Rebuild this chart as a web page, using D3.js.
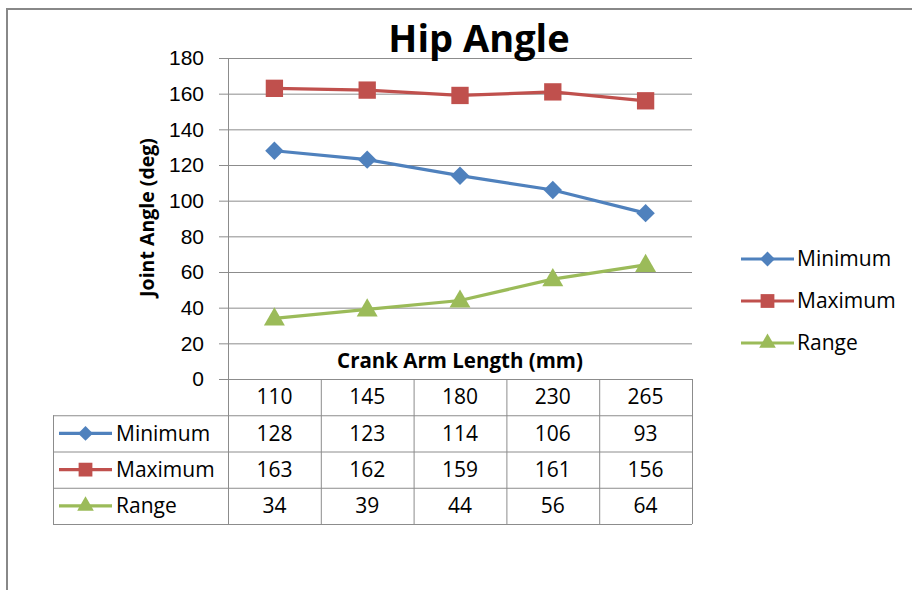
<!DOCTYPE html>
<html>
<head>
<meta charset="utf-8">
<script src="https://cdn.jsdelivr.net/npm/d3@7"></script>
<style>
  html, body { margin: 0; padding: 0; background: #fff; }
  svg { display: block; font-family: "Open Sans", "Noto Sans", sans-serif; }
</style>
</head>
<body>
<svg id="chart" width="912" height="590"></svg>
<script>
// chart data
const categories = ['110', '145', '180', '230', '265'];
const seriesNames = ['Minimum', 'Maximum', 'Range'];
const minimumValues = [128, 123, 114, 106, 93];
const maximumValues = [163, 162, 159, 161, 156];
const rangeValues = [34, 39, 44, 56, 64];
const yTicks = [0, 20, 40, 60, 80, 100, 120, 140, 160, 180];

const series = [
  { name: seriesNames[0], values: minimumValues, color: '#4f81bd', shape: 'diamond' },
  { name: seriesNames[1], values: maximumValues, color: '#c0504d', shape: 'square' },
  { name: seriesNames[2], values: rangeValues, color: '#9bbb59', shape: 'triangle' },
];

const svg = d3.select('#chart');
const gridColor = '#8c8c8c';
const bodySize = 21;

// outer frame (runs off the right and bottom edge)
svg.append('rect')
  .attr('x', 7).attr('y', 9)
  .attr('width', 940).attr('height', 620)
  .attr('fill', 'none')
  .attr('stroke', '#888').attr('stroke-width', 2);

const plot = { left: 228, right: 692, top: 58, bottom: 379 };

const x = d3.scaleBand().domain(categories).range([plot.left, plot.right]);
const y = d3.scaleLinear().domain([0, 180]).range([plot.bottom, plot.top]);

// gridlines + tick marks
const yAxis = d3.axisLeft(y).tickValues(yTicks).tickSize(9).tickPadding(15);
const gy = svg.append('g')
  .attr('transform', `translate(${plot.left},0)`)
  .call(yAxis);
gy.select('.domain').attr('stroke', gridColor);
gy.selectAll('.tick line').attr('stroke', gridColor);
gy.selectAll('.tick text')
  .attr('font-size', bodySize).attr('fill', '#000');

svg.append('g')
  .selectAll('line')
  .data(yTicks)
  .join('line')
  .attr('x1', plot.left).attr('x2', plot.right)
  .attr('y1', d => y(d) + 0.5).attr('y2', d => y(d) + 0.5)
  .attr('stroke', gridColor).attr('stroke-width', 1);

// titles
svg.append('text')
  .attr('x', 479).attr('y', 52)
  .attr('text-anchor', 'middle')
  .attr('font-size', 38).attr('font-weight', 'bold')
  .text('Hip Angle');

svg.append('text')
  .attr('transform', `translate(154,${(plot.top + plot.bottom) / 2 - 1}) rotate(-90)`)
  .attr('text-anchor', 'middle')
  .attr('font-size', 19.5).attr('font-weight', 'bold')
  .text('Joint Angle (deg)');

svg.append('text')
  .attr('x', (plot.left + plot.right) / 2).attr('y', 368)
  .attr('text-anchor', 'middle')
  .attr('font-size', 20.5).attr('font-weight', 'bold')
  .text('Crank Arm Length (mm)');

// marker helper
function markerPath(shape, big) {
  if (shape === 'diamond') return d3.symbol(d3.symbolSquare, big ? 170 : 110)();
  if (shape === 'square') return d3.symbol(d3.symbolSquare, big ? 300 : 190)();
  return d3.symbol(d3.symbolTriangle, big ? 190 : 120)();
}
function markerRotate(shape) { return shape === 'diamond' ? ' rotate(45)' : ''; }

// lines and markers
const line = d3.line()
  .x((d, i) => x(categories[i]) + x.bandwidth() / 2)
  .y(d => y(d));

series.forEach(s => {
  svg.append('path')
    .datum(s.values)
    .attr('d', line)
    .attr('fill', 'none')
    .attr('stroke', s.color)
    .attr('stroke-width', 3.2);
  svg.append('g')
    .selectAll('path')
    .data(s.values)
    .join('path')
    .attr('d', markerPath(s.shape, true))
    .attr('transform', (d, i) =>
      `translate(${x(categories[i]) + x.bandwidth() / 2},${y(d) + (s.shape === 'triangle' ? 1 : 0)})` + markerRotate(s.shape))
    .attr('fill', s.color);
});

// right-hand legend
const legendY = d3.scalePoint().domain(seriesNames).range([259, 343]);
const legend = svg.append('g')
  .selectAll('g')
  .data(series)
  .join('g')
  .attr('transform', d => `translate(741,${legendY(d.name)})`);
legend.append('line')
  .attr('x1', 0).attr('x2', 53)
  .attr('stroke', d => d.color).attr('stroke-width', 3.2);
legend.append('path')
  .attr('d', d => markerPath(d.shape, false))
  .attr('transform', d => `translate(26.5,0)` + markerRotate(d.shape))
  .attr('fill', d => d.color);
legend.append('text')
  .attr('x', 56).attr('dy', '0.35em')
  .attr('font-size', bodySize)
  .text(d => d.name);

// data table
const rowKeys = ['header'].concat(seriesNames);
const rows = d3.scaleBand().domain(rowKeys).range([379, 524]);
const table = svg.append('g');
const tableLeft = 53;

// horizontal rules
rowKeys.slice(1).concat(['end']).forEach(k => {
  const yy = k === 'end' ? 524 : rows(k);
  table.append('line')
    .attr('x1', tableLeft).attr('x2', plot.right)
    .attr('y1', yy + 0.5).attr('y2', yy + 0.5)
    .attr('stroke', gridColor);
});
// vertical rules
const colEdges = categories.map(c => x(c)).concat([plot.right]);
table.selectAll('line.v')
  .data(colEdges)
  .join('line')
  .attr('class', 'v')
  .attr('x1', d => d + 0.5).attr('x2', d => d + 0.5)
  .attr('y1', 379).attr('y2', 524)
  .attr('stroke', gridColor);
table.append('line')
  .attr('x1', tableLeft + 0.5).attr('x2', tableLeft + 0.5)
  .attr('y1', rows('Minimum')).attr('y2', 524)
  .attr('stroke', gridColor);

// header numbers
table.selectAll('text.cat')
  .data(categories)
  .join('text')
  .attr('class', 'cat')
  .attr('x', d => x(d) + x.bandwidth() / 2)
  .attr('y', rows('header') + rows.bandwidth() / 2)
  .attr('dy', '0.35em')
  .attr('text-anchor', 'middle')
  .attr('font-size', bodySize)
  .text(d => d);

// series rows
series.forEach(s => {
  const cy = rows(s.name) + rows.bandwidth() / 2;
  table.append('line')
    .attr('x1', 59).attr('x2', 112)
    .attr('y1', cy).attr('y2', cy)
    .attr('stroke', s.color).attr('stroke-width', 3.2);
  table.append('path')
    .attr('d', markerPath(s.shape, false))
    .attr('transform', `translate(85.5,${cy})` + markerRotate(s.shape))
    .attr('fill', s.color);
  table.append('text')
    .attr('x', 116).attr('y', cy).attr('dy', '0.35em')
    .attr('font-size', bodySize)
    .text(s.name);
  table.selectAll(null)
    .data(s.values)
    .join('text')
    .attr('x', (d, i) => x(categories[i]) + x.bandwidth() / 2)
    .attr('y', cy).attr('dy', '0.35em')
    .attr('text-anchor', 'middle')
    .attr('font-size', bodySize)
    .text(d => d);
});
</script>
</body>
</html>
